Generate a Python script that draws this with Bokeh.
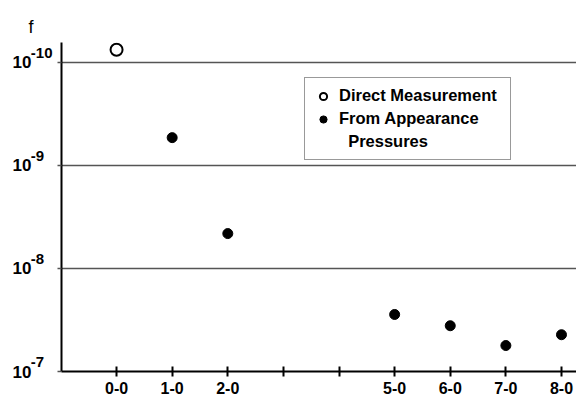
from bokeh.plotting import figure
from bokeh.models import (Range1d, FixedTicker, Legend, LegendItem, Title,
                          LogAxis, LogScale)
from bokeh.embed import file_html
from bokeh.resources import INLINE

# ---- data ----
band_labels = ["0-0", "1-0", "2-0", "", "", "5-0", "6-0", "7-0", "8-0"]
band_ticks = [0, 1, 2, 3, 4, 5, 6, 7, 8]

direct_v = [0]
direct_f = [7.6e-11]

appear_v = [1, 2, 5, 6, 7, 8]
appear_f = [5.4e-10, 4.6e-9, 2.8e-8, 3.6e-8, 5.6e-8, 4.4e-8]

y_ticks = [1e-10, 1e-9, 1e-8, 1e-7]
y_tick_base = ["10", "10", "10", "10"]
y_tick_exp = ["-10", "-9\u2007", "-8\u2007", "-7\u2007"]

FONT = "Liberation Sans"

Y_LO, Y_HI = -7.0, -10.19        # log10 limits (bottom, top)
EXP_RAISE = 0.095                # decades the exponents sit above their tick

p = figure(width=576, height=396, output_backend="svg", toolbar_location=None,
           y_axis_type="log",
           x_range=Range1d(-0.99, 8.27),
           y_range=Range1d(10 ** Y_LO, 10 ** Y_HI),
           min_border_left=61, min_border_right=0, min_border_top=42,
           min_border_bottom=24)
p.outline_line_color = None
p.background_fill_color = "white"

p.title = Title(text="f", align="left", offset=-33, text_font=FONT,
                text_font_size="18px", text_font_style="normal",
                text_color="black", standoff=12)

# x axis
xa = p.xaxis[0]
xa.ticker = FixedTicker(ticks=band_ticks)
xa.major_label_overrides = {t: l for t, l in zip(band_ticks, band_labels)}
xa.major_tick_in = 5
xa.major_tick_out = 5
xa.minor_tick_line_color = None
xa.axis_line_width = 2
xa.major_tick_line_width = 2
xa.axis_line_color = "black"
xa.major_tick_line_color = "black"
xa.major_label_text_font = FONT
xa.major_label_text_font_style = "bold"
xa.major_label_text_font_size = "16px"
xa.major_label_text_color = "black"
xa.major_label_standoff = 5

# main y axis: line and ticks only
ya = p.yaxis[0]
ya.ticker = FixedTicker(ticks=y_ticks)
ya.major_label_overrides = {t: "" for t in y_ticks}
ya.major_label_standoff = 0
ya.major_tick_in = 0
ya.major_tick_out = 4
ya.minor_tick_line_color = None
ya.axis_line_width = 2
ya.major_tick_line_width = 1.5
ya.major_tick_line_color = "#555555"
ya.axis_line_color = "black"

# exponent labels: an axis on a range shifted so the exponents sit raised
p.extra_y_ranges = {"exp": Range1d(10 ** (Y_LO + EXP_RAISE), 10 ** (Y_HI + EXP_RAISE))}
p.extra_y_scales = {"exp": LogScale()}
exp_axis = LogAxis(y_range_name="exp", ticker=FixedTicker(ticks=y_ticks))
exp_axis.major_label_overrides = {t: l for t, l in zip(y_ticks, y_tick_exp)}
exp_axis.axis_line_color = None
exp_axis.major_tick_line_color = None
exp_axis.minor_tick_line_color = None
exp_axis.major_tick_out = 0
exp_axis.major_tick_in = 0
exp_axis.major_label_standoff = 5
exp_axis.major_label_text_font = FONT
exp_axis.major_label_text_font_style = "bold"
exp_axis.major_label_text_font_size = "15px"
exp_axis.major_label_text_color = "black"
p.add_layout(exp_axis, "left")

# base "10" labels
base_axis = LogAxis(ticker=FixedTicker(ticks=y_ticks))
base_axis.major_label_overrides = {t: l for t, l in zip(y_ticks, y_tick_base)}
base_axis.axis_line_color = None
base_axis.major_tick_line_color = None
base_axis.minor_tick_line_color = None
base_axis.major_tick_out = 0
base_axis.major_tick_in = 0
base_axis.major_label_standoff = -4
base_axis.major_label_text_font = FONT
base_axis.major_label_text_font_style = "bold"
base_axis.major_label_text_font_size = "17px"
base_axis.major_label_text_color = "black"
p.add_layout(base_axis, "left")

p.xgrid.grid_line_color = None
p.ygrid.ticker = FixedTicker(ticks=y_ticks[:3])
p.ygrid.grid_line_color = "#555555"
p.ygrid.grid_line_width = 1.5

r1 = p.scatter(direct_v, direct_f, size=12, marker="circle",
               fill_color="white", line_color="black", line_width=2)
r2 = p.scatter(appear_v, appear_f, size=10, marker="circle",
               fill_color="black", line_color="black")
# invisible renderer used only for the legend's continuation line
r3 = p.scatter([], [], size=10, marker="circle", fill_alpha=0, line_alpha=0)

legend = Legend(items=[LegendItem(label="Direct Measurement", renderers=[r1]),
                       LegendItem(label="From Appearance", renderers=[r2]),
                       LegendItem(label="  Pressures", renderers=[r3])],
                location=(243, 211))
legend.label_text_font = FONT
legend.label_text_font_style = "bold"
legend.label_text_font_size = "16.5px"
legend.label_text_color = "black"
legend.border_line_color = "#333333"
legend.border_line_width = 1.5
legend.background_fill_alpha = 1
legend.padding = 8
legend.spacing = 4
legend.glyph_width = 20
legend.glyph_height = 18
legend.label_height = 18
legend.label_width = 163
legend.label_standoff = 6
p.add_layout(legend)

open("out.html", "w").write(file_html(p, INLINE))
